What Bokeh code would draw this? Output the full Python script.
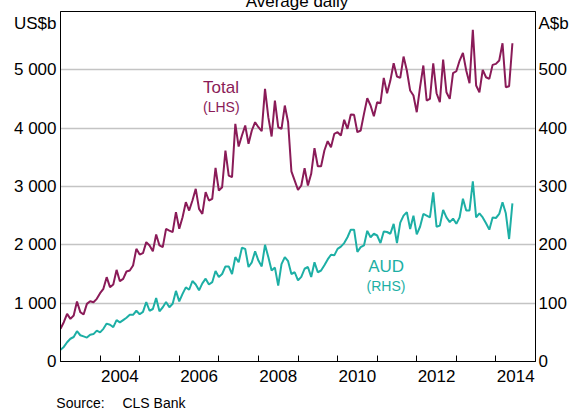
import pandas as pd
from bokeh.plotting import figure
from bokeh.models import Range1d, LinearAxis, FixedTicker, Label, ColumnDataSource
from bokeh.embed import file_html
from bokeh.resources import INLINE

# Monthly data, Jan 2003 - Jun 2014
months = pd.date_range("2003-01-01", periods=138, freq="MS")

total_usd_bn = [
    560, 674, 817, 731, 789, 1028, 846, 806, 988, 1034, 1017, 1074,
    1171, 1246, 1446, 1274, 1320, 1571, 1377, 1417, 1543, 1560, 1646, 1931,
    1834, 1857, 2046, 1989, 1891, 2177, 1989, 1960, 2274, 2245, 2217, 2560,
    2274, 2474, 2731, 2588, 2760, 2960, 2617, 2531, 2902, 2760, 2788, 3320,
    2931, 2988, 3617, 3188, 3160, 4074, 3685, 3874, 4045, 3731, 3960, 4102,
    4016, 3948, 4674, 4188, 3857, 4474, 4016, 3988, 4388, 4102, 3260, 3100,
    2943, 3017, 3314, 3017, 3217, 3657, 3348, 3348, 3617, 3777, 3674, 3902,
    3931, 3874, 4143, 3988, 4234, 4228, 3931, 3960, 4245, 4514, 4388, 4205,
    4445, 4428, 4862, 4599, 4816, 5113, 4885, 4862, 5228, 4988, 4645, 4559,
    4273, 4702, 5074, 4474, 4502, 5113, 4599, 4445, 5176, 4616, 4502, 4942,
    4976, 5159, 5291, 4988, 4770, 5685, 4731, 4616, 5000, 4873, 4845, 5085,
    5102, 5159, 5456, 4702, 4719, 5456,
]

aud_aud_bn = [
    20, 25, 33, 39, 42, 52, 45, 43, 41, 46, 47, 53,
    50, 56, 65, 63, 59, 71, 67, 71, 75, 80, 80, 87,
    81, 85, 102, 87, 90, 109, 86, 93, 102, 93, 99, 121,
    103, 116, 127, 123, 138, 132, 122, 134, 142, 132, 136, 155,
    145, 150, 163, 163, 150, 179, 170, 195, 193, 162, 170, 189,
    173, 163, 200, 179, 156, 161, 130, 167, 179, 172, 150, 153,
    139, 145, 159, 162, 145, 170, 153, 156, 165, 175, 183, 182,
    193, 197, 203, 213, 226, 226, 188, 196, 199, 224, 213, 219,
    216, 203, 223, 222, 219, 236, 203, 238, 250, 256, 227, 250,
    218, 231, 253, 250, 247, 290, 231, 233, 260, 247, 239, 245,
    236, 247, 279, 259, 259, 309, 247, 254, 247, 237, 226, 247,
    246, 253, 273, 254, 210, 271,
]

left_ticks = [0, 1000, 2000, 3000, 4000, 5000]
left_tick_labels = ["0", "1 000", "2 000", "3 000", "4 000", "5 000"]
right_ticks = [0, 100, 200, 300, 400, 500]
year_ticks = list(range(2004, 2015))
year_labels = [2004, 2006, 2008, 2010, 2012, 2014]

dec_year = [d.year + (d.month - 1) / 12 for d in months]
src = ColumnDataSource(dict(x=dec_year, total=total_usd_bn, aud=aud_aud_bn))

FONT = "Liberation Sans"
C_TOTAL = "#8A1B58"
C_AUD = "#1DAFA5"

p = figure(
    frame_width=475, frame_height=350,
    min_border_left=52, min_border_right=42, min_border_top=21, min_border_bottom=50,
    x_range=Range1d(2003, 2015), y_range=Range1d(0, 6000),
    output_backend="svg", toolbar_location=None,
)
p.extra_y_ranges = {"aud": Range1d(0, 600)}

p.outline_line_color = "black"
p.outline_line_width = 1
p.background_fill_color = "white"
p.border_fill_color = "white"

# grid
p.xgrid.visible = False
p.ygrid.ticker = FixedTicker(ticks=[1000, 2000, 3000, 4000, 5000])
p.ygrid.grid_line_color = "#c4c4c4"
p.ygrid.grid_line_width = 1.3


def style_axis(ax, size="17px", standoff=4):
    ax.major_tick_in = 0
    ax.major_tick_out = 0
    ax.minor_tick_line_color = None
    ax.axis_line_color = "black"
    ax.major_label_text_font = FONT
    ax.major_label_text_font_size = size
    ax.major_label_text_color = "black"
    ax.major_label_standoff = standoff


# x axis: year labels mid-year, tick marks at year boundaries
xa = p.xaxis[0]
style_axis(xa, standoff=8)
xa.ticker = FixedTicker(ticks=[y + 0.5 for y in year_labels], minor_ticks=year_ticks)
xa.major_label_overrides = {y + 0.5: str(y) for y in year_labels}
xa.minor_tick_in = 6
xa.minor_tick_out = 0
xa.minor_tick_line_color = "black"

# source line as a second, line-less axis below
sa = LinearAxis(ticker=FixedTicker(ticks=[2003.505, 2005.362]))
style_axis(sa, size="14px", standoff=10)
sa.axis_line_color = None
sa.major_label_overrides = {2003.505: "Source:", 2005.362: "CLS Bank"}
p.add_layout(sa, "below")

# title as a line-less axis above
ta = LinearAxis(ticker=FixedTicker(ticks=[2008.975]))
style_axis(ta, size="17px", standoff=1)
ta.axis_line_color = None
ta.major_label_overrides = {2008.975: "Average daily"}
p.add_layout(ta, "above")

# left axis (unit label as the top tick label)
ya = p.yaxis[0]
style_axis(ya, standoff=4)
ya.ticker = FixedTicker(ticks=left_ticks + [5800])
ov = dict(zip(left_ticks, left_tick_labels))
ov[5800] = "US$b"
ya.major_label_overrides = ov

# right axis
ra = LinearAxis(y_range_name="aud", ticker=FixedTicker(ticks=right_ticks + [580]))
style_axis(ra, standoff=3)
ra.major_label_overrides = {580: "A$b"}
p.add_layout(ra, "right")

p.line("x", "total", source=src, line_color=C_TOTAL, line_width=2)
p.line("x", "aud", source=src, line_color=C_AUD, line_width=2, y_range_name="aud")


def lab(x, y, text, size, color, baseline="alphabetic"):
    p.add_layout(Label(x=x, y=y, text=text, text_font=FONT, text_font_size=size,
                       text_color=color, text_align="center", text_baseline=baseline))


lab(2007.055, 4697, "Total", "17px", C_TOTAL)
lab(2007.062, 4366, "(LHS)", "14px", C_TOTAL, baseline="middle")
lab(2011.228, 1623, "AUD", "17px", C_AUD)
lab(2011.223, 1294, "(RHS)", "14px", C_AUD, baseline="middle")

# shift so the frame sits where the reference has it (title partly above the page)
p.styles = {"margin-top": "-12px", "margin-left": "8px"}

open("out.html", "w").write(file_html(p, INLINE))
